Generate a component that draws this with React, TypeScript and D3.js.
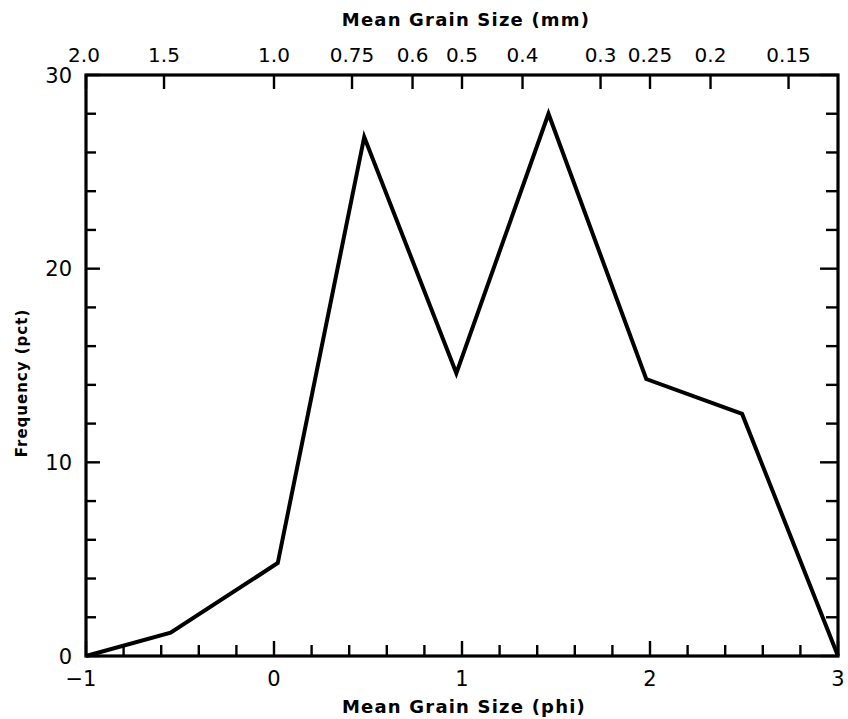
import React from "react";
import * as d3 from "d3";

// Data
const phiValues = [-1, -0.55, 0.02, 0.48, 0.97, 1.46, 1.98, 2.49, 3];
const frequencyPct = [0, 1.2, 4.8, 26.8, 14.6, 28.0, 14.3, 12.5, 0];

const bottomMajorTicks = [-1, 0, 1, 2, 3];
const bottomMinorTicks = d3.range(-1, 3.0001, 0.2);
const leftMajorTicks = [0, 10, 20, 30];
const leftMinorTicks = d3.range(0, 30.001, 2);
const topMmLabels = ["2.0", "1.5", "1.0", "0.75", "0.6", "0.5", "0.4", "0.3", "0.25", "0.2", "0.15"];

const W = 848;
const H = 719;
const FONT = "'DejaVu Sans', sans-serif";

export default function App() {
  const x = d3.scaleLinear().domain([-1, 3]).range([86, 838]);
  const y = d3.scaleLinear().domain([0, 30]).range([656, 75]);
  const pts = phiValues.map((p, i) => [p, frequencyPct[i]] as [number, number]);
  const line = d3
    .line<[number, number]>()
    .x((d) => x(d[0]))
    .y((d) => y(d[1]));

  const x0 = x(-1), x1 = x(3), y0 = y(0), y1 = y(30);

  return (
    <svg width={W} height={H} style={{ position: "absolute", left: 0, top: 0, background: "#fff" }}>
      <rect x={0} y={0} width={W} height={H} fill="#fff" />
      {/* frame */}
      <rect x={x0} y={y1} width={x1 - x0} height={y0 - y1} fill="none" stroke="#000" strokeWidth={3.2} />

      {/* bottom ticks (inward) */}
      {bottomMinorTicks.map((t, i) => {
        const major = bottomMajorTicks.some((m) => Math.abs(m - t) < 1e-6);
        return (
          <line key={"bt" + i} x1={x(t)} x2={x(t)} y1={y0} y2={y0 - (major ? 15 : 11)} stroke="#000" strokeWidth={2.4} />
        );
      })}
      {/* left and right ticks */}
      {leftMinorTicks.map((t, i) => {
        const major = leftMajorTicks.includes(Math.round(t));
        return (
          <g key={"lt" + i}>
            <line x1={x0} x2={x0 + (major ? 14 : 10)} y1={y(t)} y2={y(t)} stroke="#000" strokeWidth={2.4} />
            <line x1={x1} x2={x1 - (major ? 18 : 12)} y1={y(t)} y2={y(t)} stroke="#000" strokeWidth={2.4} />
          </g>
        );
      })}
      {/* top ticks (mm) */}
      {topMmLabels.map((lab, i) => {
        const phi = -Math.log2(parseFloat(lab));
        return (
          <g key={"tt" + i}>
            <line x1={x(phi)} x2={x(phi)} y1={y1} y2={y1 + 14} stroke="#000" strokeWidth={2.4} />
            <text
              x={x(phi) + (i === 0 ? -2 : 0)}
              y={62}
              textAnchor="middle"
              fontFamily={FONT}
              fontSize={20}
              fill="#000"
            >
              {lab}
            </text>
          </g>
        );
      })}

      {/* left labels */}
      {leftMajorTicks.map((t) => (
        <text key={"ll" + t} x={72} y={y(t)} dy="0.36em" textAnchor="end" fontFamily={FONT} fontSize={21} fill="#000">
          {t}
        </text>
      ))}
      {/* bottom labels */}
      {bottomMajorTicks.map((t) => (
        <text key={"bl" + t} x={x(t) - (t === -1 ? 5 : 0)} y={686} textAnchor="middle" fontFamily={FONT} fontSize={21} fill="#000">
          {t === -1 ? "\u2212" + "1" : t}
        </text>
      ))}

      {/* titles */}
      <text x={466} y={26} textAnchor="middle" fontFamily={FONT} fontSize={18} fontWeight="bold" letterSpacing={1.2} fill="#000">
        Mean Grain Size (mm)
      </text>
      <text x={464} y={713} textAnchor="middle" fontFamily={FONT} fontSize={18} fontWeight="bold" letterSpacing={1.2} fill="#000">
        Mean Grain Size (phi)
      </text>
      <text
        transform={`translate(27, 383) rotate(-90)`}
        textAnchor="middle"
        fontFamily={FONT}
        fontSize={15}
        fontWeight="bold"
        letterSpacing={1}
        fill="#000"
      >
        Frequency (pct)
      </text>

      {/* data line */}
      <path d={line(pts) || ""} fill="none" stroke="#000" strokeWidth={4} strokeLinejoin="miter" />
    </svg>
  );
}
